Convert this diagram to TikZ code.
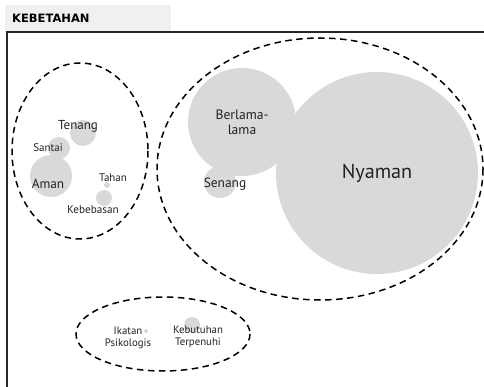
\documentclass[tikz,border=0pt]{standalone}
\usepackage{fontspec}
\setmainfont{PT Sans}
\newfontfamily\titlefont{DejaVu Sans}
\definecolor{bubblegray}{HTML}{D9D9D9}
\definecolor{bandgray}{HTML}{F0F0F0}
\definecolor{inkgray}{HTML}{222222}
\tikzset{
	bubble/.style={circle, fill=bubblegray, inner sep=0pt},
	word/.style={text=inkgray, inner sep=0pt, align=center},
	group/.style={dashed, dash pattern=on 6.5pt off 4.5pt, line width=1.5pt},
}
\begin{document}
\begin{tikzpicture}[x=1pt, y=-1pt]
		\useasboundingbox (0,0) rectangle (484,387);
		% title band and frame
		\fill[bandgray] (5,5) rectangle (171,31);
		\node[word, anchor=west, font=\titlefont\bfseries\fontsize{11.5}{13}\selectfont, text=black] (title) at (12,18) {KEBETAHAN};
		\draw[line width=1.6pt, black!85] (7,387) -- (7,32) -- (484,32);
		% bubbles
		\node[bubble, minimum size=26pt] (tenang) at (83,133) {};
		\node[bubble, minimum size=22pt] (santai) at (59,148) {};
		\node[bubble, minimum size=42pt] (aman) at (51,176) {};
		\node[bubble, minimum size=6pt] (tahan) at (107,185) {};
		\node[bubble, minimum size=16pt] (kebebasan) at (104,198) {};
		\node[bubble, minimum size=108pt] (berlama) at (242,122) {};
		\node[bubble, minimum size=32pt] (senang) at (220,182) {};
		\node[bubble, minimum size=202pt] (nyaman) at (377,173) {};
		\node[bubble, minimum size=4pt] (ikatan) at (146,331) {};
		\node[bubble, minimum size=16pt] (kebutuhan) at (192,325) {};
		% labels
		\node[word, font=\fontsize{13}{15}\selectfont] (tenangL) at (78,126) {Tenang};
		\node[word, font=\fontsize{11}{13}\selectfont] (santaiL) at (48,148) {Santai};
		\node[word, font=\fontsize{13.3}{15}\selectfont] (amanL) at (48,184) {Aman};
		\node[word, font=\fontsize{11}{13}\selectfont] (tahanL) at (113,178) {Tahan};
		\node[word, font=\fontsize{11.2}{13}\selectfont] (kebebasanL) at (93,210) {Kebebasan};
		\node[word, font=\fontsize{13.6}{15}\selectfont] (berlamaL) at (242,122) {Berlama-\\lama};
		\node[word, font=\fontsize{13.4}{15}\selectfont] (senangL) at (225,184) {Senang};
		\node[word, font=\fontsize{20.2}{22}\selectfont] (nyamanL) at (377,173) {Nyaman};
		\node[word, font=\fontsize{10.8}{12}\selectfont] (ikatanL) at (128,338) {Ikatan\\Psikologis};
		\node[word, font=\fontsize{10.8}{12}\selectfont] (kebutuhanL) at (198,337) {Kebutuhan\\Terpenuhi};
		% dashed groups
		\draw[group] (80,151) ellipse (68 and 88);
		\draw[group] (320,169) ellipse (163 and 131);
		\draw[group] (163,334) ellipse (87 and 37);
\end{tikzpicture}
\end{document}
